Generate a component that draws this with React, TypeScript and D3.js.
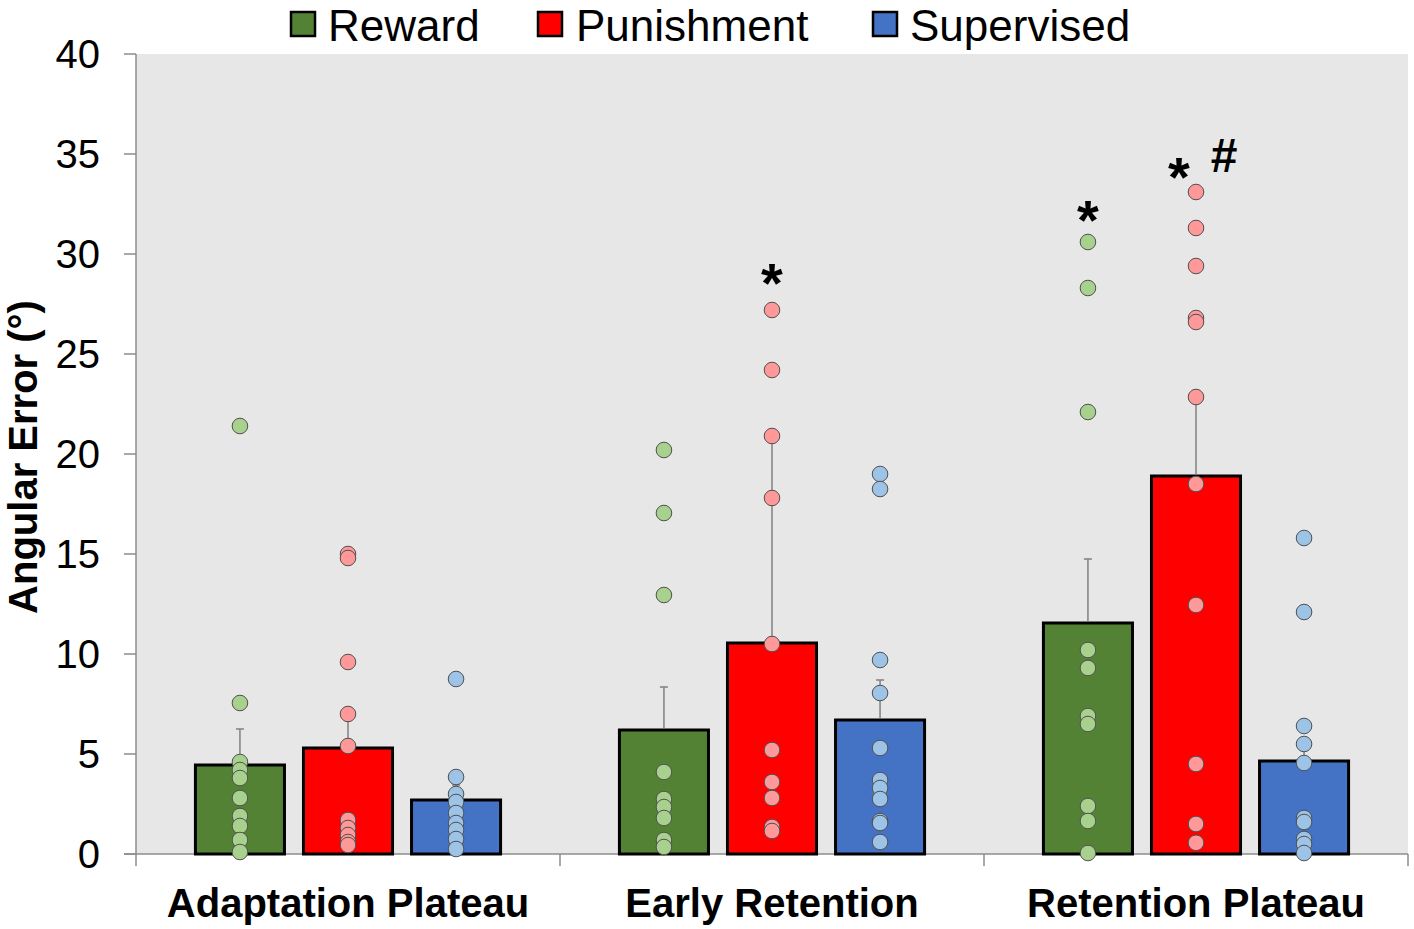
import React from "react";
import * as d3 from "d3";

const categories = ["Adaptation Plateau", "Early Retention", "Retention Plateau"];
const seriesNames = ["Reward", "Punishment", "Supervised"];

// group means
const rewardMean = [4.45, 6.2, 11.55];
const punishmentMean = [5.3, 10.55, 18.9];
const supervisedMean = [2.7, 6.7, 4.65];

// standard errors (drawn upward only)
const rewardSE = [1.8, 2.15, 3.2];
const punishmentSE = [1.7, 10.35, 3.95];
const supervisedSE = [0.75, 2.0, 0.85];

// individual participants
const rewardPoints = [
  [21.4, 7.55, 4.6, 4.2, 3.8, 2.8, 1.9, 1.4, 0.7, 0.1],
  [20.2, 17.05, 12.95, 4.1, 2.75, 2.35, 1.8, 0.7, 0.35],
  [30.6, 28.3, 22.1, 10.2, 9.3, 6.9, 6.5, 2.4, 1.65, 0.05],
];
const punishmentPoints = [
  [15.0, 14.8, 9.6, 7.0, 5.4, 1.7, 1.3, 0.95, 0.6, 0.45],
  [27.2, 24.2, 20.9, 17.8, 10.5, 5.2, 3.6, 2.8, 1.35, 1.15],
  [33.1, 31.3, 29.4, 26.8, 26.6, 22.85, 18.5, 12.45, 4.5, 1.5, 0.56],
];
const supervisedPoints = [
  [8.75, 3.85, 3.0, 2.6, 2.05, 1.55, 1.2, 0.75, 0.25],
  [19.0, 18.25, 9.7, 8.05, 5.3, 3.7, 3.3, 2.75, 1.65, 1.55, 0.6],
  [15.8, 12.1, 6.4, 5.5, 4.55, 1.8, 1.6, 0.75, 0.5, 0.05],
];

const yTicks = [0, 5, 10, 15, 20, 25, 30, 35, 40];

// significance markers: category index, series index, symbol, y of glyph centre
const markers = [
  { cat: 1, ser: 1, label: "*", at: 29.2, dx: 0 },
  { cat: 2, ser: 0, label: "*", at: 32.35, dx: 0 },
  { cat: 2, ser: 1, label: "*", at: 34.5, dx: -17 },
  { cat: 2, ser: 1, label: "#", at: 34.95, dx: 28 },
];

const barColors = ["#548235", "#ff0000", "#4472c4"];
const dotColors = ["#a9d18e", "#ff9999", "#9dc3e6"];

const FONT = "'Liberation Sans', Arial, Helvetica, sans-serif";

const W = 1414;
const H = 929;
const left = 136;
const right = 1408;
const top = 54;
const bottom = 854;

export default function App() {
  const means = [rewardMean, punishmentMean, supervisedMean];
  const ses = [rewardSE, punishmentSE, supervisedSE];
  const points = [rewardPoints, punishmentPoints, supervisedPoints];

  const y = d3.scaleLinear().domain([0, 40]).range([bottom, top]);
  const x0 = d3.scaleBand<string>().domain(categories).range([left, right]);
  const x1 = d3
    .scaleBand<string>()
    .domain(seriesNames)
    .range([0, x0.bandwidth()])
    .paddingInner(0.176)
    .paddingOuter(0.55);
  const bw = x1.bandwidth();
  const cx = (c: number, s: number) =>
    x0(categories[c])! + x1(seriesNames[s])! + bw / 2;

  const axisColor = "#8c8c8c";

  const legend = [
    { name: "Reward", sq: 291, tx: 328 },
    { name: "Punishment", sq: 538, tx: 576 },
    { name: "Supervised", sq: 873, tx: 910 },
  ];

  return (
    <svg
      width={W}
      height={H}
      style={{ position: "absolute", left: 0, top: 0, background: "#fff" }}
      fontFamily={FONT}
    >
      <rect x={left} y={top} width={right - left} height={bottom - top} fill="#e7e7e7" />

      {/* y axis */}
      <line x1={left} x2={left} y1={top} y2={bottom} stroke={axisColor} strokeWidth={1.5} />
      {yTicks.map((t) => (
        <g key={t}>
          <line x1={left - 12} x2={left} y1={y(t)} y2={y(t)} stroke={axisColor} strokeWidth={1.5} />
          <text x={100} y={y(t)} dy="0.36em" textAnchor="end" fontSize={40} fill="#000">
            {t}
          </text>
        </g>
      ))}

      {/* x axis */}
      <line x1={left - 12} x2={right} y1={bottom} y2={bottom} stroke={axisColor} strokeWidth={1.5} />
      {[left, ...categories.map((c) => x0(c)! + x0.bandwidth())].map((px, i) => (
        <line key={i} x1={px} x2={px} y1={bottom} y2={bottom + 12} stroke={axisColor} strokeWidth={1.5} />
      ))}
      {categories.map((c) => (
        <text
          key={c}
          x={x0(c)! + x0.bandwidth() / 2}
          y={917}
          textAnchor="middle"
          fontSize={40}
          fontWeight="bold"
        >
          {c}
        </text>
      ))}

      <text
        transform={`translate(37,${(top + bottom) / 2 + 3}) rotate(-90)`}
        textAnchor="middle"
        fontSize={40}
        fontWeight="bold"
      >
        Angular Error (°)
      </text>

      {/* bars */}
      {categories.map((c, ci) =>
        seriesNames.map((s, si) => (
          <rect
            key={c + s}
            x={x0(c)! + x1(s)!}
            y={y(means[si][ci])}
            width={bw}
            height={bottom - y(means[si][ci])}
            fill={barColors[si]}
            stroke="#000"
            strokeWidth={3}
          />
        ))
      )}

      {/* error bars */}
      {categories.map((c, ci) =>
        seriesNames.map((s, si) => {
          const px = cx(ci, si);
          const y1 = y(means[si][ci]);
          const y2 = y(means[si][ci] + ses[si][ci]);
          return (
            <g key={"e" + c + s} stroke="#808080" strokeWidth={1.5}>
              <line x1={px} x2={px} y1={y1 - 1.5} y2={y2} />
              <line x1={px - 4} x2={px + 4} y1={y2} y2={y2} />
            </g>
          );
        })
      )}

      {/* individual points */}
      {categories.map((c, ci) =>
        seriesNames.map((s, si) =>
          points[si][ci].map((v, k) => (
            <circle
              key={c + s + k}
              cx={cx(ci, si)}
              cy={y(v)}
              r={7.8}
              fill={dotColors[si]}
              stroke="#505050"
              strokeWidth={1}
            />
          ))
        )
      )}

      {/* significance markers */}
      {markers.map((m, i) => (
        <text
          key={i}
          x={cx(m.cat, m.ser) + m.dx}
          y={y(m.at)}
          dy={m.label === "*" ? "0.57em" : "0.36em"}
          textAnchor="middle"
          fontSize={m.label === "*" ? 56 : 48}
          fontWeight="bold"
        >
          {m.label}
        </text>
      ))}

      {/* legend */}
      {legend.map((l, i) => (
        <g key={l.name}>
          <rect x={l.sq} y={12} width={24} height={24} fill={barColors[i]} stroke="#000" strokeWidth={2.5} />
          <text x={l.tx} y={41} fontSize={44}>
            {l.name}
          </text>
        </g>
      ))}
    </svg>
  );
}
